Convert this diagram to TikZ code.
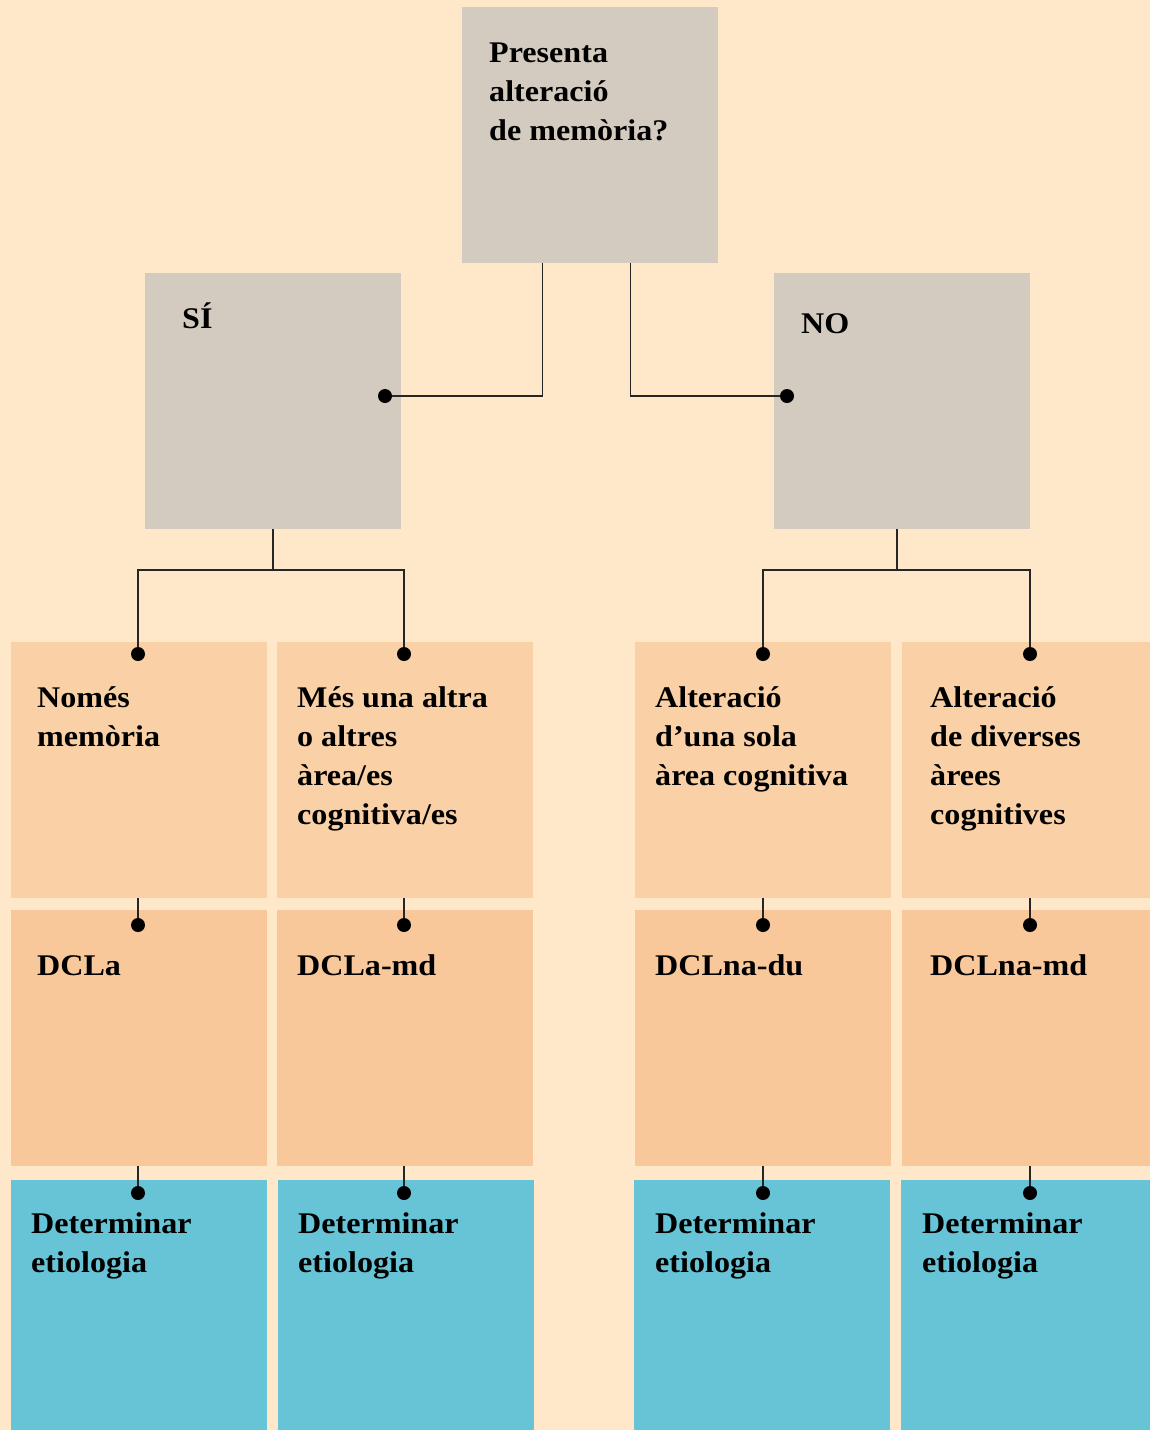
\documentclass[tikz,border=0pt]{standalone}
\usepackage{fontspec}
\setmainfont{Liberation Serif}[FakeStretch=1.07]
\usetikzlibrary{calc}
\definecolor{bg}{HTML}{FEE8C9}
\definecolor{grayb}{HTML}{D3CBBF}
\definecolor{peach}{HTML}{FAD1A6}
\definecolor{peachd}{HTML}{F8C79A}
\definecolor{blueb}{HTML}{66C4D6}
\begin{document}
\begin{tikzpicture}[x=1pt,y=-1pt,
  box/.style={minimum width=256pt, minimum height=256pt, inner sep=0pt, anchor=north west},
  boxg/.style={box, fill=grayb},
  boxp/.style={box, fill=peach},
  boxd/.style={box, fill=peachd},
  boxb/.style={box, fill=blueb, minimum height=250pt},
  txt/.style={anchor=north west, inner sep=0pt, align=left, font=\fontsize{30}{39}\selectfont\bfseries},
  conn/.style={draw=black!85, line width=1.1pt},
  jdot/.style={circle, fill=black, inner sep=0pt, minimum size=14pt}]
\fill[bg] (0,0) rectangle (1150,1430);
\useasboundingbox (0,0) rectangle (1150,1430);
% boxes
\node[boxg] (top) at (462,7) {};
\node[boxg] (si) at (145,273) {};
\node[boxg] (no) at (774,273) {};
\node[boxp] (r1a) at (11,642) {};
\node[boxp] (r1b) at (277,642) {};
\node[boxp] (r1c) at (635,642) {};
\node[boxp] (r1d) at (902,642) {};
\node[boxd] (r2a) at (11,910) {};
\node[boxd] (r2b) at (277,910) {};
\node[boxd] (r2c) at (635,910) {};
\node[boxd] (r2d) at (902,910) {};
\node[boxb] (r3a) at (11,1180) {};
\node[boxb] (r3b) at (278,1180) {};
\node[boxb] (r3c) at (634,1180) {};
\node[boxb] (r3d) at (901,1180) {};
% texts
\node[txt] (ttop) at (489,32) {\rule{0pt}{30pt}Presenta\\alteració\\de memòria?};
\node[txt] (tsi) at (182,298) {\rule{0pt}{30pt}SÍ};
\node[txt] (tno) at (801,303) {\rule{0pt}{30pt}NO};
\node[txt] (t1a) at (37,677) {\rule{0pt}{30pt}Només\\memòria};
\node[txt] (t1b) at (297,677) {\rule{0pt}{30pt}Més una altra\\o altres\\àrea/es\\cognitiva/es};
\node[txt] (t1c) at (655,677) {\rule{0pt}{30pt}Alteració\\d’una sola\\àrea cognitiva};
\node[txt] (t1d) at (930,677) {\rule{0pt}{30pt}Alteració\\de diverses\\àrees\\cognitives};
\node[txt] (t2a) at (37,945) {\rule{0pt}{30pt}DCLa};
\node[txt] (t2b) at (297,945) {\rule{0pt}{30pt}DCLa-md};
\node[txt] (t2c) at (655,945) {\rule{0pt}{30pt}DCLna-du};
\node[txt] (t2d) at (930,945) {\rule{0pt}{30pt}DCLna-md};
\node[txt] (t3a) at (31,1203) {\rule{0pt}{30pt}Determinar\\etiologia};
\node[txt] (t3b) at (298,1203) {\rule{0pt}{30pt}Determinar\\etiologia};
\node[txt] (t3c) at (655,1203) {\rule{0pt}{30pt}Determinar\\etiologia};
\node[txt] (t3d) at (922,1203) {\rule{0pt}{30pt}Determinar\\etiologia};
% coordinates
\coordinate (dsi) at (385,396);
\coordinate (dno) at (787,396);
\coordinate (jsi) at (273,570);
\coordinate (jno) at (897,570);
\coordinate (d1a) at (138,654);
\coordinate (d1b) at (404,654);
\coordinate (d1c) at (763,654);
\coordinate (d1d) at (1030,654);
\coordinate (d2a) at (138,925);
\coordinate (d2b) at (404,925);
\coordinate (d2c) at (763,925);
\coordinate (d2d) at (1030,925);
\coordinate (d3a) at (138,1193);
\coordinate (d3b) at (404,1193);
\coordinate (d3c) at (763,1193);
\coordinate (d3d) at (1030,1193);
% connectors
\draw[conn] ($(top.south)+(-48,0)$) |- (dsi);
\draw[conn] ($(top.south)+(40,0)$) |- (dno);
\draw[conn] (si.south -| jsi) -- (jsi);
\draw[conn] (jsi) -| (d1a);
\draw[conn] (jsi) -| (d1b);
\draw[conn] (no.south -| jno) -- (jno);
\draw[conn] (jno) -| (d1c);
\draw[conn] (jno) -| (d1d);
\foreach \c/\u in {a/a,b/b,c/c,d/d}{
  \draw[conn] (r1\c.south -| d2\u) -- (d2\u);
  \draw[conn] (r2\c.south -| d3\u) -- (d3\u);
}
% dots
\foreach \p in {dsi,dno,d1a,d1b,d1c,d1d,d2a,d2b,d2c,d2d,d3a,d3b,d3c,d3d}{
  \node[jdot] at (\p) {};
}
\end{tikzpicture}
\end{document}
